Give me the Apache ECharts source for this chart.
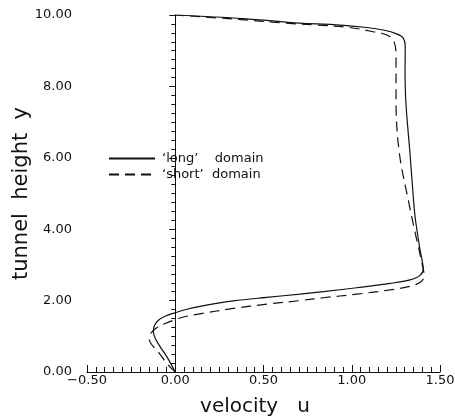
<!DOCTYPE html>
<html><head><meta charset="utf-8">
<script src="https://cdn.jsdelivr.net/npm/echarts@6/dist/echarts.min.js"></script>
<style>html,body{margin:0;padding:0;background:#fff}#c{width:455px;height:420px}</style>
</head><body><div id="c"></div>
<script>
// 'long' domain (solid)
const longU = [0.0, -0.048, -0.086, -0.112, -0.124, -0.118, -0.095, -0.055, 0.0, 0.06, 0.14, 0.329, 0.518, 0.707, 0.839, 1.028, 1.217, 1.33, 1.385, 1.405, 1.398, 1.387, 1.36, 1.35, 1.33, 1.307, 1.302, 1.303, 1.292, 1.255, 1.179, 1.085, 0.896, 0.707, 0.386, 0.0];
const longY = [0.0, 0.43, 0.71, 0.93, 1.13, 1.30, 1.45, 1.57, 1.66, 1.75, 1.84, 1.99, 2.09, 2.18, 2.25, 2.36, 2.48, 2.58, 2.70, 2.88, 3.15, 3.42, 4.3, 4.82, 6.12, 7.53, 8.46, 9.11, 9.35, 9.47, 9.58, 9.65, 9.73, 9.77, 9.90, 10.0];
// 'short' domain (dashed)
const shortU = [0.0, -0.05, -0.091, -0.125, -0.147, -0.14, -0.105, -0.06, -0.01, 0.046, 0.14, 0.329, 0.518, 0.707, 0.839, 1.028, 1.217, 1.33, 1.39, 1.41, 1.40, 1.36, 1.32, 1.27, 1.251, 1.251, 1.235, 1.198, 1.122, 0.99, 0.801, 0.6, 0.35, 0.0];
const shortY = [0.0, 0.25, 0.53, 0.72, 0.90, 1.08, 1.24, 1.35, 1.45, 1.54, 1.63, 1.78, 1.90, 2.0, 2.08, 2.18, 2.30, 2.40, 2.52, 2.70, 3.0, 3.88, 4.82, 6.12, 7.53, 8.92, 9.3, 9.44, 9.53, 9.65, 9.72, 9.78, 9.88, 10.0];
const seriesNames = ["\u2018long\u2019    domain", "\u2018short\u2019  domain"];
const xTitle = "velocity   u";
const yTitle = "tunnel  height  y";

const pair = (u, y) => u.map((v, i) => [v, y[i]]);
const font = "DejaVu Sans";
const ink = "#111";
const chart = echarts.init(document.getElementById('c'), null, {renderer: 'canvas'});
chart.setOption({
  animation: false,
  backgroundColor: '#fff',
  grid: {left: 87, right: 15, top: 15, bottom: 48, containLabel: false, outerBoundsMode: 'none'},
  legend: {
    orient: 'vertical', left: 103, top: 147, itemGap: 3, itemWidth: 46, itemHeight: 10,
    itemStyle: {opacity: 0},
    textStyle: {fontFamily: font, fontSize: 13, color: ink, padding: [0, 0, 0, 2]},
    data: seriesNames.map(n => ({name: n}))
  },
  xAxis: {
    type: 'value', min: -0.5, max: 1.5, interval: 0.5,
    name: xTitle, nameLocation: 'middle', nameGap: 25, nameMoveOverlap: false,
    nameTextStyle: {fontFamily: font, fontSize: 20, color: ink, padding: [0, 17, 0, 0]},
    axisLine: {show: true, lineStyle: {color: ink, width: 1}},
    axisTick: {show: true, inside: true, length: 7, lineStyle: {color: ink}},
    minorTick: {show: true, splitNumber: 10, length: 5, lineStyle: {color: ink}},
    axisLabel: {fontFamily: font, fontSize: 13, color: ink, margin: 2,
      formatter: v => v.toFixed(2).replace('-', '\u2212')},
    splitLine: {show: false}
  },
  yAxis: {
    type: 'value', min: 0, max: 10, interval: 2,
    name: yTitle, nameLocation: 'middle', nameGap: 55, nameMoveOverlap: false,
    nameTextStyle: {fontFamily: font, fontSize: 21, color: ink},
    axisLine: {show: true, lineStyle: {color: ink, width: 1}},
    axisTick: {show: true, inside: false, length: 6, lineStyle: {color: ink}},
    minorTick: {show: true, splitNumber: 8, length: 4, lineStyle: {color: ink}},
    axisLabel: {fontFamily: font, fontSize: 13, color: ink, margin: 15,
      formatter: v => v.toFixed(2)},
    splitLine: {show: false}
  },
  series: [
    {name: seriesNames[0], type: 'line', data: pair(longU, longY), smooth: 0.35, symbol: 'none',
     itemStyle: {color: ink}, lineStyle: {color: ink, width: 1.2, type: 'solid'}},
    {name: seriesNames[1], type: 'line', data: pair(shortU, shortY), smooth: 0.35, symbol: 'none',
     itemStyle: {color: ink}, lineStyle: {color: ink, width: 1.2, type: [10, 6]}}
  ]
});
</script></body></html>
